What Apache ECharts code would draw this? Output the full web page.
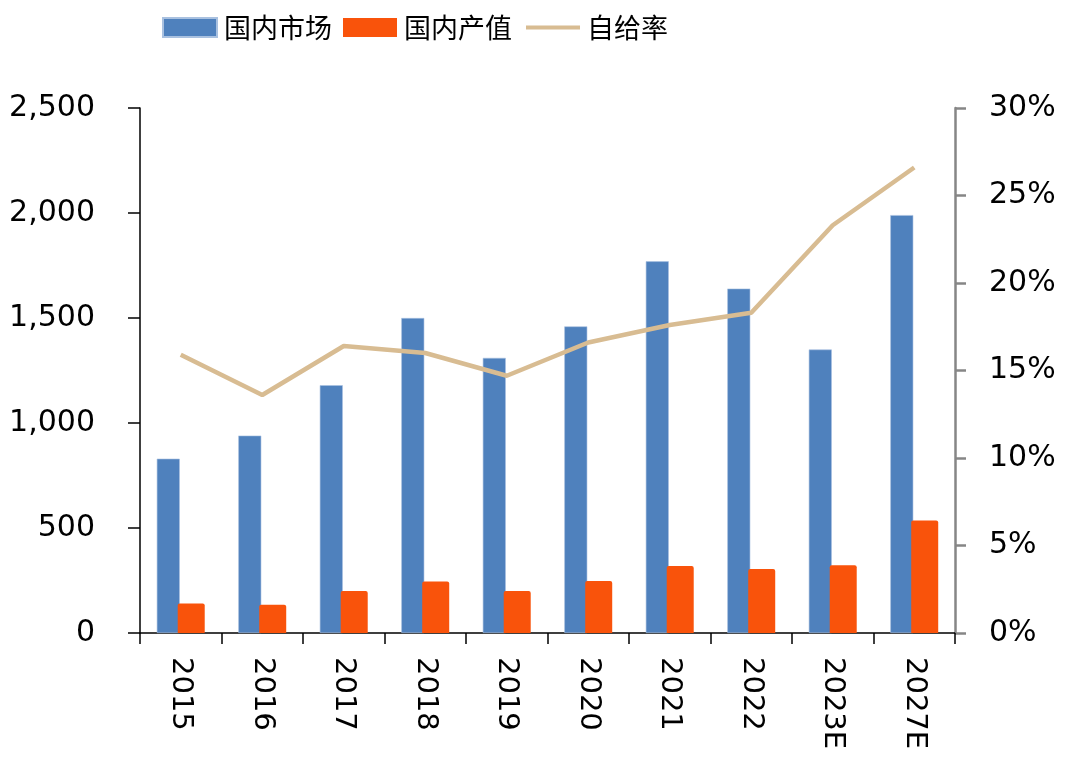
<!DOCTYPE html>
<html>
<head>
<meta charset="utf-8">
<script src="https://cdn.jsdelivr.net/npm/echarts@6/dist/echarts.min.js"></script>
<style>
html,body{margin:0;padding:0;background:#fff;}
#c{width:1080px;height:761px;}
</style>
</head>
<body>
<div id="c"></div>
<script>
var categories = ['2015','2016','2017','2018','2019','2020','2021','2022','2023E','2027E'];
var marketValues = [830, 940, 1180, 1500, 1310, 1460, 1770, 1640, 1350, 1990];
var outputValues = [140, 135, 200, 245, 200, 248, 319, 305, 323, 536];
var selfRate = [15.9, 13.6, 16.4, 16.0, 14.7, 16.6, 17.6, 18.3, 23.3, 26.6];
var seriesNames = ['国内市场', '国内产值', '自给率'];
var leftTicks = {min: 0, max: 2500, interval: 500};
var rightTicks = {min: 0, max: 30, interval: 5};

var chart = echarts.init(document.getElementById('c'));
var numFont = 'DejaVu Sans';
var legendBase = {
  top: 9,
  itemWidth: 54,
  itemHeight: 19,
  itemGap: 0,
  textStyle: {fontFamily: 'Noto Sans CJK SC', fontSize: 27, color: '#000', padding: [0, 0, 0, 2]}
};
var linePath = 'path://M0,0 M0,7.5 L54,7.5 L54,11.5 L0,11.5 Z M54,19';
chart.setOption({
  animation: false,
  backgroundColor: '#ffffff',
  legend: [
    Object.assign({}, legendBase, {left: 157, data: [{name: seriesNames[0], icon: 'rect'}]}),
    Object.assign({}, legendBase, {left: 338, data: [{name: seriesNames[1], icon: 'rect'}]}),
    Object.assign({}, legendBase, {left: 521, data: [{name: seriesNames[2], icon: linePath}]})
  ],
  grid: {left: 140, right: 125, top: 108, bottom: 128, containLabel: false},
  xAxis: {
    type: 'category',
    data: categories,
    boundaryGap: true,
    axisLine: {lineStyle: {color: '#000', width: 1.5}},
    axisTick: {show: true, length: 11, inside: false, lineStyle: {color: '#000', width: 1.5}},
    axisLabel: {rotate: -90, margin: 24, fontFamily: numFont, fontSize: 29, color: '#000', interval: 0},
    splitLine: {show: false}
  },
  yAxis: [
    {
      type: 'value',
      min: leftTicks.min, max: leftTicks.max, interval: leftTicks.interval,
      axisLine: {show: true, lineStyle: {color: '#000', width: 1.5}},
      axisTick: {show: true, length: 12, lineStyle: {color: '#000', width: 1.5}},
      axisLabel: {
        margin: 45, fontFamily: numFont, fontSize: 30, color: '#000',
        formatter: function (v) { return v.toLocaleString('en-US'); }
      },
      splitLine: {show: false}
    },
    {
      type: 'value',
      position: 'right',
      min: rightTicks.min, max: rightTicks.max, interval: rightTicks.interval,
      axisLine: {show: true, lineStyle: {color: '#868686', width: 2.5}},
      axisTick: {show: true, length: 11, lineStyle: {color: '#868686', width: 2.5}},
      axisLabel: {margin: 34, fontFamily: numFont, fontSize: 30, color: '#000', formatter: '{value}%'},
      splitLine: {show: false}
    }
  ],
  series: [
    {
      name: seriesNames[0], type: 'bar', data: marketValues, barWidth: 23, barGap: '-9%',
      itemStyle: {color: '#4F81BD', borderColor: '#A9C1E0', borderWidth: 0.6}
    },
    {
      name: seriesNames[1], type: 'bar', data: outputValues, barWidth: 27,
      itemStyle: {color: '#F9530B', borderRadius: [2, 2, 0, 0]}
    },
    {
      name: seriesNames[2], type: 'line', yAxisIndex: 1, data: selfRate,
      symbol: 'none', showSymbol: false,
      lineStyle: {color: '#D8BC92', width: 4.5},
      itemStyle: {color: '#D8BC92'}
    }
  ]
});
</script>
</body>
</html>
